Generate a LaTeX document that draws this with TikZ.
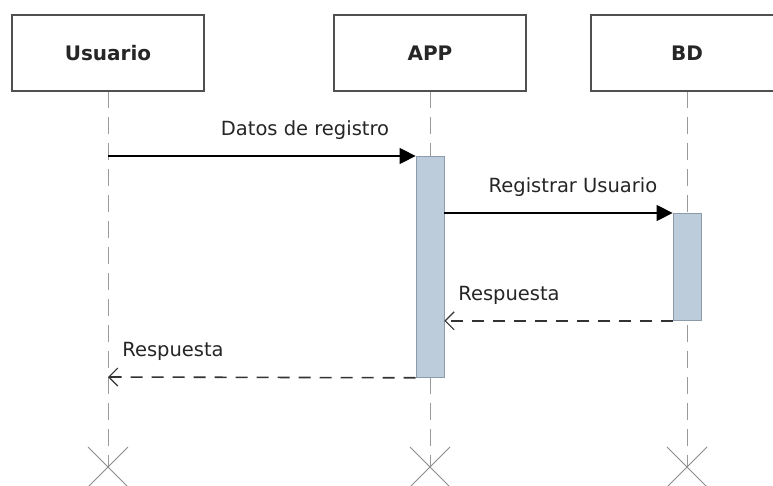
\documentclass[tikz,border=0pt]{standalone}
\usepackage{fontspec}
\setmainfont{DejaVu Sans}
\usetikzlibrary{arrows.meta,calc}
\definecolor{actfill}{HTML}{BDCCDB}
\definecolor{actdraw}{HTML}{8C9BAA}
\definecolor{boxdraw}{HTML}{505050}
\definecolor{lifegray}{HTML}{9A9A9A}
\tikzset{
  participant/.style={draw=boxdraw, line width=1.3pt, fill=white, minimum width=192pt, minimum height=76pt, inner sep=0pt, font=\fontsize{20}{24}\selectfont\bfseries, text=black!85},
  lifeline/.style={draw=lifegray, line width=1pt, dash pattern=on 17pt off 9pt},
  activation/.style={draw=actdraw, line width=0.8pt, fill=actfill, minimum width=28pt, inner sep=0pt},
  callmsg/.style={draw=black, line width=1.5pt, -{Triangle[length=16pt,width=16pt]}},
  replymsg/.style={draw=black!80, line width=1.6pt, dash pattern=on 12pt off 9pt, -{Straight Barb[length=9pt,width=18pt,line width=1.1pt]}},
  msglabel/.style={font=\fontsize{19.5}{22}\selectfont, text=black!85, inner sep=0pt},
  endmark/.style={draw=lifegray!90!black, line width=1pt}
}
\begin{document}
\begin{tikzpicture}[x=1pt,y=-1pt]
\useasboundingbox (0,0) rectangle (773,486);
\fill[white] (0,0) rectangle (773,486);

% lifelines with their end marks
\foreach \name/\lx in {u/108, a/430, b/687}{
  \coordinate (\name top) at (\lx,91);
  \coordinate (\name end) at (\lx,467);
  \draw[lifeline] (\name top) -- (\name end);
  \draw[endmark] ($(\name end)+(-20,-20)$) -- ($(\name end)+(20,20)$)
                 ($(\name end)+(-20,20)$) -- ($(\name end)+(20,-20)$);
}

% participants
\node[participant] (usuario) at (108,53) {Usuario};
\node[participant] (app) at (430,53) {APP};
\node[participant] (bd) at (687,53) {BD};

% activation bars
\node[activation, minimum height=221pt, anchor=north] (appact) at (430,156) {};
\node[activation, minimum height=107pt, anchor=north] (bdact) at (687,213) {};

% messages
\coordinate (m1s) at (108,156);
\draw[callmsg] (m1s) -- (appact.north west);
\node[msglabel] (l1) at (305,130) {Datos de registro};

\coordinate (m2s) at (appact.east |- bdact.north);
\draw[callmsg] (m2s) -- (bdact.north west);
\node[msglabel] (l2) at (573,187) {Registrar Usuario};

\coordinate (m3e) at (appact.east |- bdact.south);
\draw[replymsg] (bdact.south west) -- (m3e);
\node[msglabel] (l3) at (509,295) {Respuesta};

\coordinate (m4e) at (108,377);
\draw[replymsg] (appact.south west) -- (m4e);
\node[msglabel] (l4) at (173,351) {Respuesta};
\end{tikzpicture}
\end{document}
